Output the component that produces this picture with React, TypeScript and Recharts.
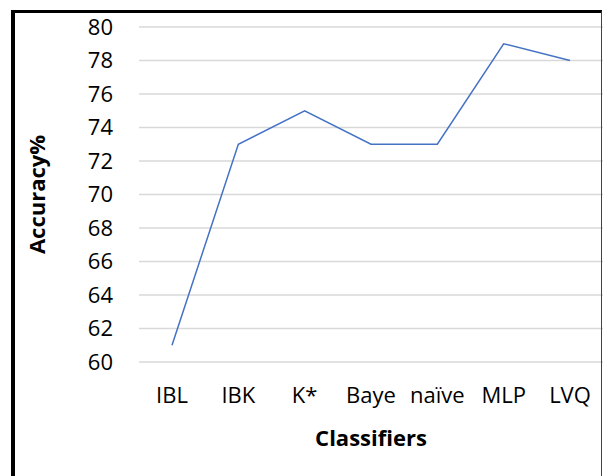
import { LineChart, Line, XAxis, YAxis, CartesianGrid } from "recharts";

const classifiers = ["IBL", "IBK", "K*", "Baye", "naïve", "MLP", "LVQ"];
const accuracy = [61, 73, 75, 73, 73, 79, 78];
const yTicks = [60, 62, 64, 66, 68, 70, 72, 74, 76, 78, 80];

const data = classifiers.map((name, i) => ({ name, accuracy: accuracy[i] }));

const FONT = "'Open Sans', sans-serif";
const tickStyle = { fontFamily: FONT, fontSize: 22, fill: "#000" };

function YTitle({ viewBox }: { viewBox?: any }) {
  if (!viewBox) return null;
  const x = 36;
  const y = viewBox.y + viewBox.height / 2;
  return (
    <text
      x={x}
      y={y}
      transform={`rotate(-90 ${x} ${y})`}
      textAnchor="middle"
      dominantBaseline="central"
      style={{ fontFamily: FONT, fontSize: 22, fontWeight: 700, fill: "#000" }}
    >
      Accuracy%
    </text>
  );
}

function XTitle({ viewBox }: { viewBox?: any }) {
  if (!viewBox) return null;
  return (
    <text
      x={viewBox.x + viewBox.width / 2}
      y={viewBox.y + 75}
      textAnchor="middle"
      dominantBaseline="central"
      style={{ fontFamily: FONT, fontSize: 22, fontWeight: 700, fill: "#000" }}
    >
      Classifiers
    </text>
  );
}

export default function App() {
  return (
    <div style={{ position: "absolute", left: 0, top: 0, width: 603, height: 476, background: "#fff" }}>
      <LineChart
        width={603}
        height={476}
        data={data}
        margin={{ top: 27, right: 0, bottom: 0, left: 0 }}
      >
        <CartesianGrid vertical={false} stroke="#D9D9D9" strokeWidth={1.5} />
        <XAxis
          dataKey="name"
          height={114}
          padding={{ left: 33, right: 33 }}
          axisLine={false}
          tickLine={false}
          tickSize={0}
          tickMargin={25}
          tick={tickStyle}
          interval={0}
          label={<XTitle />}
        />
        <YAxis
          width={139}
          domain={[60, 80]}
          ticks={yTicks}
          axisLine={false}
          tickLine={false}
          tickSize={0}
          tickMargin={26}
          tick={tickStyle}
          label={<YTitle />}
        />
        <Line
          type="linear"
          dataKey="accuracy"
          stroke="#4472C4"
          strokeWidth={1.5}
          dot={false}
          isAnimationActive={false}
        />
      </LineChart>
      {/* frame: thick black top/left, thin right edge */}
      <div
        style={{
          position: "absolute",
          left: 11,
          top: 10,
          width: 591,
          height: 466,
          boxSizing: "border-box",
          borderTop: "3px solid #000",
          borderLeft: "4px solid #000",
          borderRight: "1px solid #444",
          pointerEvents: "none",
        }}
      />
    </div>
  );
}
